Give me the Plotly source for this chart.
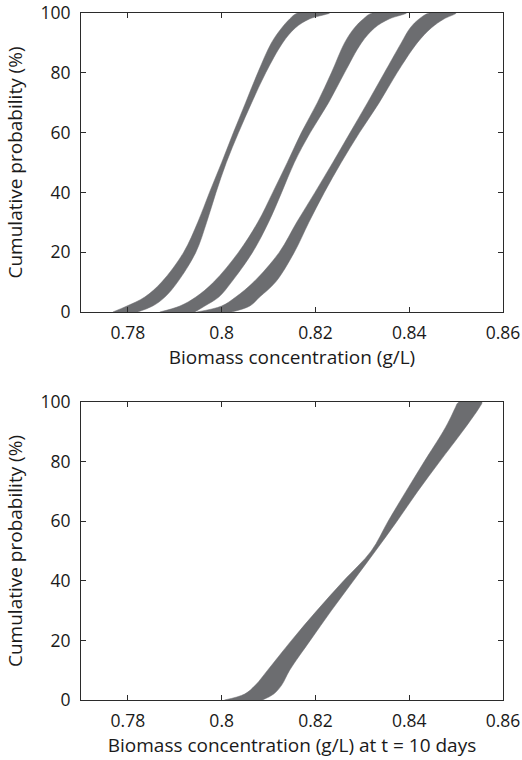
import plotly.graph_objects as go

# Cumulative probability levels (%)
prob = [0, 2, 5, 10, 20, 30, 40, 50, 60, 70, 80, 90, 95, 98, 100]

# Top panel: three p-boxes (left bound / right bound of biomass, g/L)
band1_lo = [0.7768, 0.7798, 0.7836, 0.7872, 0.7919, 0.7949, 0.7974, 0.8000, 0.8025, 0.8051, 0.8077, 0.8106, 0.8128, 0.8145, 0.8162]
band1_hi = [0.7821, 0.7853, 0.7879, 0.7906, 0.7945, 0.7968, 0.7988, 0.8010, 0.8036, 0.8064, 0.8094, 0.8130, 0.8157, 0.8187, 0.8230]

band2_lo = [0.7868, 0.7911, 0.7945, 0.7983, 0.8036, 0.8077, 0.8109, 0.8140, 0.8170, 0.8204, 0.8234, 0.8262, 0.8283, 0.8302, 0.8321]
band2_hi = [0.7943, 0.7964, 0.7994, 0.8021, 0.8066, 0.8100, 0.8128, 0.8155, 0.8189, 0.8228, 0.8262, 0.8298, 0.8326, 0.8357, 0.8394]

band3_lo = [0.7947, 0.8000, 0.8030, 0.8068, 0.8123, 0.8160, 0.8199, 0.8237, 0.8274, 0.8311, 0.8347, 0.8383, 0.8402, 0.8421, 0.8443]
band3_hi = [0.8021, 0.8060, 0.8081, 0.8115, 0.8155, 0.8186, 0.8219, 0.8255, 0.8294, 0.8336, 0.8374, 0.8417, 0.8447, 0.8474, 0.8500]

# Bottom panel: p-box at t = 10 days
band10_lo = [0.8006, 0.8049, 0.8072, 0.8098, 0.8149, 0.8203, 0.8260, 0.8319, 0.8355, 0.8393, 0.8432, 0.8472, 0.8489, 0.8498, 0.8506]
band10_hi = [0.8087, 0.8111, 0.8128, 0.8145, 0.8189, 0.8234, 0.8281, 0.8328, 0.8374, 0.8418, 0.8465, 0.8513, 0.8536, 0.8549, 0.8555]

x_ticks = [0.78, 0.80, 0.82, 0.84, 0.86]
x_ticktext = ["0.78", "0.8", "0.82", "0.84", "0.86"]
y_ticks = [0, 20, 40, 60, 80, 100]

FILL = "rgb(108,109,112)"
FONT = "Open Sans"
INK = "#1a1a1a"

fig = go.Figure()


def add_band(lo, hi, xa, ya):
    xs = list(lo) + list(hi)[::-1]
    ys = list(prob) + list(prob)[::-1]
    fig.add_trace(go.Scatter(
        x=xs, y=ys, xaxis=xa, yaxis=ya, mode="lines", fill="toself",
        fillcolor=FILL, line=dict(color=FILL, width=0.5, shape="spline", smoothing=1.0),
        hoverinfo="skip", showlegend=False))


add_band(band1_lo, band1_hi, "x", "y")
add_band(band2_lo, band2_hi, "x", "y")
add_band(band3_lo, band3_hi, "x", "y")
add_band(band10_lo, band10_hi, "x2", "y2")

axis_common = dict(
    showline=True, linecolor="#2b2b2b", linewidth=1, mirror="ticks",
    ticks="inside", ticklen=5, tickwidth=1, tickcolor="#2b2b2b",
    showgrid=False, zeroline=False, automargin=False,
    tickfont=dict(family=FONT, size=17.5, color=INK),
)

title_font = dict(family=FONT, size=19, color=INK)

xcommon = dict(domain=[0, 1], range=[0.77, 0.86], tickvals=x_ticks, ticktext=x_ticktext,
               ticklabelstandoff=5)
ycommon = dict(range=[0, 100], tickvals=y_ticks, ticklabelstandoff=6)

fig.update_layout(
    width=522, height=760,
    margin=dict(l=81, r=19, t=13, b=60),
    paper_bgcolor="white", plot_bgcolor="white",
    xaxis=dict(anchor="y", title=dict(text="Biomass concentration (g/L)", font=title_font, standoff=2),
               **xcommon, **axis_common),
    yaxis=dict(domain=[0.5648, 1], anchor="x",
               title=dict(text="Cumulative probability (%)", font=title_font, standoff=12),
               **ycommon, **axis_common),
    xaxis2=dict(anchor="y2", title=dict(text="Biomass concentration (g/L) at t = 10 days", font=title_font, standoff=0),
                **xcommon, **axis_common),
    yaxis2=dict(domain=[0, 0.4338], anchor="x2",
                title=dict(text="Cumulative probability (%)", font=title_font, standoff=12),
                **ycommon, **axis_common),
)

fig.write_html("out.html", config={"displayModeBar": False},
               post_script="document.body.style.margin='0';document.body.style.overflow='hidden';")
